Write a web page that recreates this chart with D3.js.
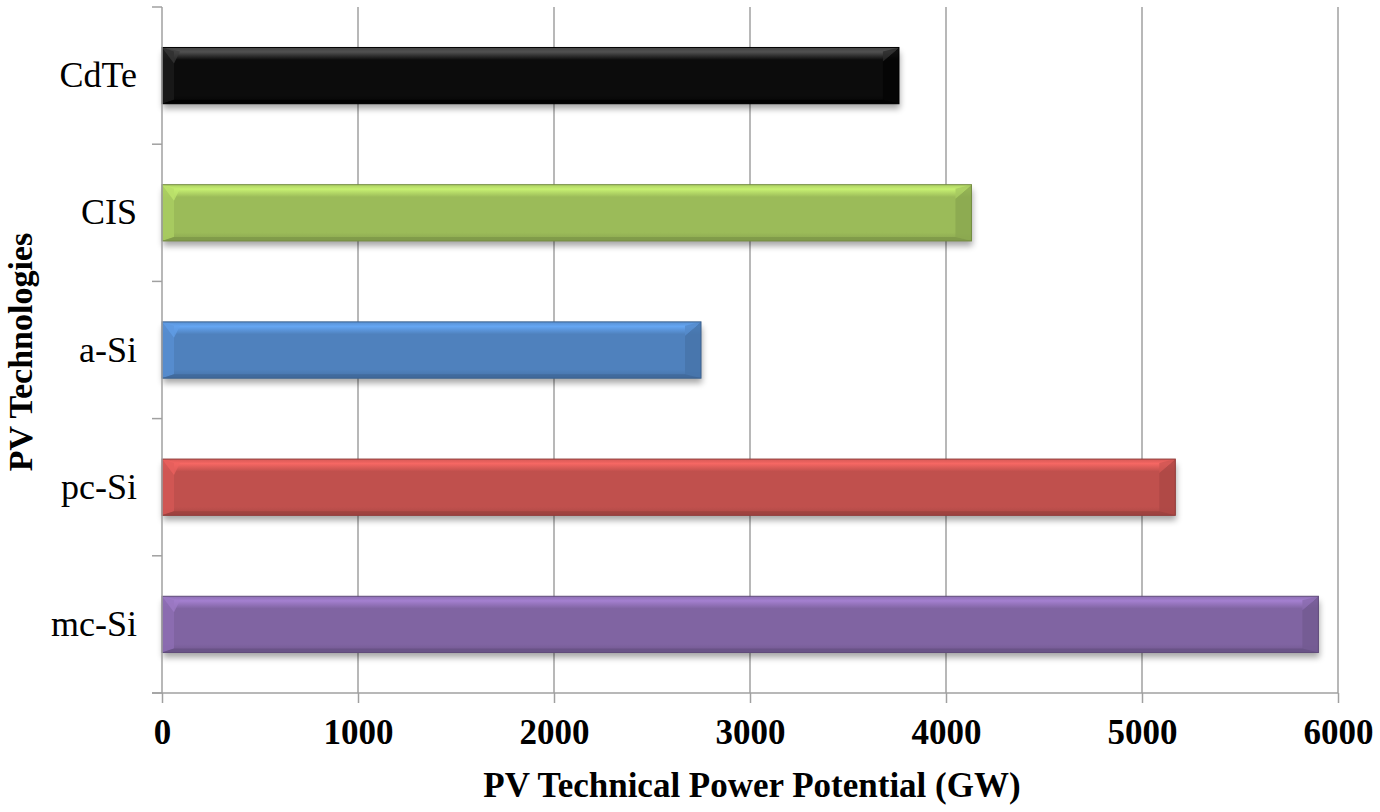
<!DOCTYPE html>
<html>
<head>
<meta charset="utf-8">
<script src="https://cdn.jsdelivr.net/npm/d3@7"></script>
<style>
  html, body { margin: 0; padding: 0; background: #fff; }
  svg { display: block; }
</style>
</head>
<body>
<svg id="chart" width="1380" height="812"></svg>
<script>
// ---- data ----
const categories = ["CdTe", "CIS", "a-Si", "pc-Si", "mc-Si"];
const values = [3760, 4130, 2750, 5170, 5900];
const barColors = ["#0a0a0a", "#9bbb59", "#4f81bd", "#c0504d", "#8064a2"];
const xTicks = [0, 1000, 2000, 3000, 4000, 5000, 6000];
const xTitle = "PV Technical Power Potential (GW)";
const yTitle = "PV Technologies";

(function () {
// ---- layout ----
const pL = 162, pR = 1338, pT = 7, pB = 693;
const svg = d3.select("#chart");
const FONT = "'Liberation Serif', 'Times New Roman', serif";

const x = d3.scaleLinear().domain([0, 6000]).range([pL, pR]);
const y = d3.scaleBand().domain(categories).range([pT, pB])
  .paddingInner(0.59).paddingOuter(0.295);

const defs = svg.append("defs");
const shadow = defs.append("filter").attr("id", "shadow")
  .attr("x", "-5%").attr("y", "-30%").attr("width", "110%").attr("height", "180%");
shadow.append("feGaussianBlur").attr("in", "SourceAlpha").attr("stdDeviation", 3).attr("result", "b");
shadow.append("feOffset").attr("in", "b").attr("dx", 1).attr("dy", 5).attr("result", "o");
shadow.append("feComponentTransfer").attr("in", "o").attr("result", "o2")
  .append("feFuncA").attr("type", "linear").attr("slope", 0.35);

categories.forEach((c, i) => {
  const base = d3.color(barColors[i]);
  const g = defs.append("linearGradient").attr("id", "grad" + i)
    .attr("x1", 0).attr("y1", 0).attr("x2", 0).attr("y2", 1);
  const light = i === 0 ? d3.rgb(80, 80, 80) : base.brighter(0.7);
  const mid = i === 0 ? d3.rgb(12, 12, 12) : base;
  const dark = i === 0 ? d3.rgb(5, 5, 5) : base.darker(0.35);
  g.append("stop").attr("offset", "0%").attr("stop-color", i === 0 ? "#444" : base.brighter(0.3));
  g.append("stop").attr("offset", "8%").attr("stop-color", light);
  g.append("stop").attr("offset", "22%").attr("stop-color", mid);
  g.append("stop").attr("offset", "85%").attr("stop-color", mid);
  g.append("stop").attr("offset", "100%").attr("stop-color", dark);
});

// ---- gridlines ----
svg.append("g").selectAll("line").data(xTicks.filter(d => d > 0)).join("line")
  .attr("x1", d => x(d)).attr("x2", d => x(d))
  .attr("y1", pT).attr("y2", pB)
  .attr("stroke", "#a0a0a0").attr("stroke-width", 1.5);

// ---- bars ----
const bars = svg.append("g").selectAll("g").data(categories).join("g");
bars.each(function(c, i) {
  const g = d3.select(this);
  const x0 = x(0), x1 = x(values[i]);
  const y0 = y(c), h = y.bandwidth(), y1 = y0 + h;
  const base = d3.color(barColors[i]);
  g.append("rect").attr("x", x0).attr("y", y0).attr("width", x1 - x0).attr("height", h)
    .attr("fill", "#000").attr("filter", "url(#shadow)");
  g.append("rect").attr("x", x0).attr("y", y0).attr("width", x1 - x0).attr("height", h)
    .attr("fill", "url(#grad" + i + ")");
  const bw = 12, bt = 4;
  g.append("polygon")
    .attr("points", [[x0, y0], [x0 + bw, y0 + bt], [x0 + bw, y1 - bt], [x0, y1]].join(" "))
    .attr("fill", i === 0 ? "#1a1a1a" : base.brighter(0.25)).attr("opacity", 0.9);
  g.append("polygon")
    .attr("points", [[x0, y0], [x0 + bw + 6, y0 + bt], [x0 + bw, y0 + bt + 12]].join(" "))
    .attr("fill", i === 0 ? "#3a3a3a" : base.brighter(0.6)).attr("opacity", 0.7);
  g.append("polygon")
    .attr("points", [[x1, y0], [x1 - bw - 4, y0 + bt + 10], [x1 - bw - 4, y1 - bt], [x1, y1]].join(" "))
    .attr("fill", i === 0 ? "#050505" : base.darker(0.3)).attr("opacity", 0.85);
  g.append("polygon")
    .attr("points", [[x1, y0], [x1 - bw - 4, y0 + bt], [x1 - bw - 4, y0 + bt + 10]].join(" "))
    .attr("fill", i === 0 ? "#2a2a2a" : base.brighter(0.2)).attr("opacity", 0.8);
  g.append("polygon")
    .attr("points", [[x0, y1], [x0 + bw, y1 - bt], [x1 - bw - 4, y1 - bt], [x1, y1]].join(" "))
    .attr("fill", i === 0 ? "#000" : base.darker(0.6)).attr("opacity", 0.8);
  g.append("rect").attr("x", x0).attr("y", y0).attr("width", x1 - x0).attr("height", h)
    .attr("fill", "none").attr("stroke", i === 0 ? "#000" : base.darker(0.8)).attr("stroke-width", 1);
});

// ---- x axis ----
const xAxis = d3.axisBottom(x).tickValues(xTicks).tickSize(10).tickPadding(16)
  .tickFormat(d3.format("d"));
const gx = svg.append("g").attr("transform", `translate(0,${pB})`).call(xAxis);
gx.select(".domain").attr("stroke", "#a0a0a0").attr("stroke-width", 1.5)
  .attr("d", `M${pL - 10},0H${pR}`);
gx.selectAll(".tick line").attr("stroke", "#a0a0a0").attr("stroke-width", 1.5);
gx.selectAll(".tick text").attr("font-family", FONT).attr("font-size", 35)
  .attr("font-weight", "bold").attr("fill", "#000");

// ---- y axis ----
const yAxis = d3.axisLeft(y).tickSize(0).tickPadding(25);
const gy = svg.append("g").attr("transform", `translate(${pL},0)`).call(yAxis);
gy.select(".domain").attr("stroke", "#a0a0a0").attr("stroke-width", 1.5)
  .attr("d", `M0,${pT}V${pB}`);
gy.selectAll(".tick text").attr("font-family", FONT).attr("font-size", 36)
  .attr("fill", "#000");
const step = y.step();
const bounds = categories.map(c => y(c) + y.bandwidth() / 2 - step / 2).concat([pB]);
svg.append("g").selectAll("line").data(bounds).join("line")
  .attr("x1", pL - 10).attr("x2", pL)
  .attr("y1", d => d).attr("y2", d => d)
  .attr("stroke", "#a0a0a0").attr("stroke-width", 1.5);

// ---- titles ----
svg.append("text").attr("x", (pL + pR) / 2 + 2).attr("y", 797)
  .attr("text-anchor", "middle").attr("font-family", FONT).attr("font-size", 35)
  .attr("font-weight", "bold").text(xTitle);
svg.append("text").attr("transform", `translate(32,352) rotate(-90)`)
  .attr("text-anchor", "middle").attr("font-family", FONT).attr("font-size", 34)
  .attr("font-weight", "bold").text(yTitle);
})();
</script>
</body>
</html>
